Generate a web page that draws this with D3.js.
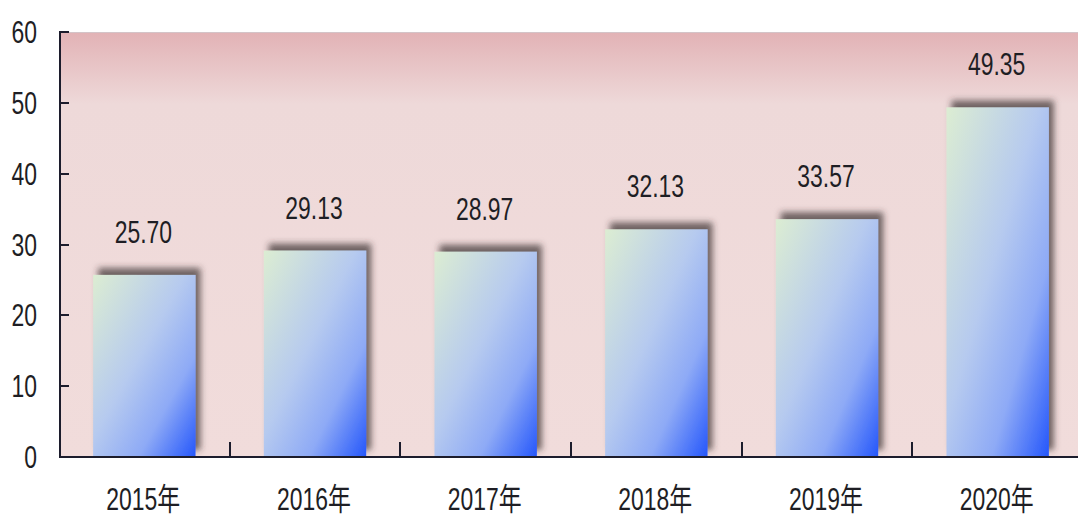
<!DOCTYPE html>
<html>
<head>
<meta charset="utf-8">
<script src="https://cdn.jsdelivr.net/npm/d3@7"></script>
<style>
  html, body { margin: 0; padding: 0; background: #fff; }
  svg { display: block; }
  .lbl { font-family: 'Liberation Sans', Arial, 'Noto Sans CJK SC', sans-serif; font-size: 31px; fill: #1e1e24; }
</style>
</head>
<body>
<div id="chart"></div>
<script>
const years = ['2015年', '2016年', '2017年', '2018年', '2019年', '2020年'];
const values = [25.70, 29.13, 28.97, 32.13, 33.57, 49.35];
const yTicks = [0, 10, 20, 30, 40, 50, 60];

const width = 1078;
const height = 518;
const margin = {top: 32, right: 0, bottom: 61, left: 60};
const squeeze = 0.74; // narrow glyphs like the original

const svg = d3.select('#chart').append('svg')
  .attr('width', width)
  .attr('height', height);

const defs = svg.append('defs');

// plot background: darker pink band at the top
const bg = defs.append('linearGradient')
  .attr('id', 'bgGrad')
  .attr('x1', 0).attr('y1', 0).attr('x2', 0).attr('y2', 1);
bg.append('stop').attr('offset', '0').attr('stop-color', '#e2b2b5');
bg.append('stop').attr('offset', '0.17').attr('stop-color', '#eed9d9');
bg.append('stop').attr('offset', '1').attr('stop-color', '#f1dcdb');

// bars: pale green top-left to saturated blue bottom-right
const bar = defs.append('linearGradient')
  .attr('id', 'barGrad')
  .attr('x1', 0).attr('y1', 0).attr('x2', 1).attr('y2', 1);
bar.append('stop').attr('offset', '0').attr('stop-color', '#dcedd2');
bar.append('stop').attr('offset', '0.45').attr('stop-color', '#b6caef');
bar.append('stop').attr('offset', '0.72').attr('stop-color', '#8eaaf6');
bar.append('stop').attr('offset', '1').attr('stop-color', '#2456fb');

// soft dark shadow up and to the right
const shadow = defs.append('filter')
  .attr('id', 'shadow')
  .attr('x', '-20%').attr('y', '-20%').attr('width', '140%').attr('height', '140%');
shadow.append('feGaussianBlur').attr('in', 'SourceAlpha').attr('stdDeviation', 3).attr('result', 'blur');
shadow.append('feOffset').attr('in', 'blur').attr('dx', 5).attr('dy', -7).attr('result', 'off');
shadow.append('feFlood').attr('flood-color', '#3a3030').attr('flood-opacity', 0.7);
shadow.append('feComposite').attr('in2', 'off').attr('operator', 'in').attr('result', 'sh');
const merge = shadow.append('feMerge');
merge.append('feMergeNode').attr('in', 'sh');
merge.append('feMergeNode').attr('in', 'SourceGraphic');

const x0 = margin.left;
const x1 = 1083;
const yBottom = height - margin.bottom;

// Set the ranges
const x = d3.scaleBand().domain(years).range([x0 - 1, x1]);
const xBar = d3.scaleBand().domain(years).range([x0 - 1, x1]).paddingInner(0.4).paddingOuter(0.2);
const y = d3.scaleLinear().domain([0, 60]).range([yBottom, margin.top]);

// plot background
svg.append('rect')
  .attr('x', x0)
  .attr('y', y(60))
  .attr('width', width - x0)
  .attr('height', y(0) - y(60))
  .attr('fill', 'url(#bgGrad)');

svg.append('line')
  .attr('x1', x0).attr('x2', width)
  .attr('y1', y(60) + 0.5).attr('y2', y(60) + 0.5)
  .attr('stroke', '#d4c4c8')
  .attr('stroke-width', 1);

// bars
svg.selectAll('rect.bar')
  .data(values)
  .enter()
  .append('rect')
  .attr('class', 'bar')
  .attr('x', (d, i) => xBar(years[i]))
  .attr('y', d => y(d))
  .attr('width', xBar.bandwidth())
  .attr('height', d => y(0) - y(d))
  .attr('fill', 'url(#barGrad)')
  .attr('filter', 'url(#shadow)');

// value labels
svg.selectAll('text.val')
  .data(values)
  .enter()
  .append('text')
  .attr('class', 'lbl val')
  .attr('text-anchor', 'middle')
  .attr('transform', (d, i) => 'translate(' + (xBar(years[i]) + xBar.bandwidth() / 2 - 1) + ',' + (y(d) - 32) + ') scale(' + squeeze + ',1)')
  .text(d => d.toFixed(2));

// X axis
const xAxis = d3.axisBottom(x).tickSize(0).tickFormat('');
svg.append('g')
  .attr('class', 'x axis')
  .attr('transform', 'translate(0,' + yBottom + ')')
  .call(xAxis)
  .call(g => g.select('.domain').remove());

svg.append('line')
  .attr('x1', x0 - 1).attr('x2', width)
  .attr('y1', yBottom).attr('y2', yBottom)
  .attr('stroke', '#1c1c2c')
  .attr('stroke-width', 2);

// category separators rising from the axis
svg.selectAll('line.sep')
  .data(years.slice(1))
  .enter()
  .append('line')
  .attr('class', 'sep')
  .attr('x1', d => Math.round(x(d)))
  .attr('x2', d => Math.round(x(d)))
  .attr('y1', yBottom)
  .attr('y2', yBottom - 15)
  .attr('stroke', '#1c1c2c')
  .attr('stroke-width', 2);

// x labels
svg.selectAll('text.cat')
  .data(years)
  .enter()
  .append('text')
  .attr('class', 'lbl cat')
  .attr('text-anchor', 'middle')
  .attr('transform', d => 'translate(' + (x(d) + x.bandwidth() / 2 - 1) + ',' + (height - 8) + ') scale(' + squeeze + ',1)')
  .text(d => d);

// Y axis
svg.append('line')
  .attr('x1', x0).attr('x2', x0)
  .attr('y1', y(60) - 1).attr('y2', yBottom)
  .attr('stroke', '#1c1c2c')
  .attr('stroke-width', 2);

svg.selectAll('line.ytick')
  .data(yTicks.slice(1))
  .enter()
  .append('line')
  .attr('class', 'ytick')
  .attr('x1', x0).attr('x2', x0 + 9)
  .attr('y1', d => Math.round(y(d)))
  .attr('y2', d => Math.round(y(d)))
  .attr('stroke', '#1c1c2c')
  .attr('stroke-width', 2);

svg.selectAll('text.ylab')
  .data(yTicks)
  .enter()
  .append('text')
  .attr('class', 'lbl ylab')
  .attr('text-anchor', 'end')
  .attr('transform', d => 'translate(37,' + (y(d) + 11) + ') scale(' + squeeze + ',1)')
  .text(d => d);
</script>
</body>
</html>
